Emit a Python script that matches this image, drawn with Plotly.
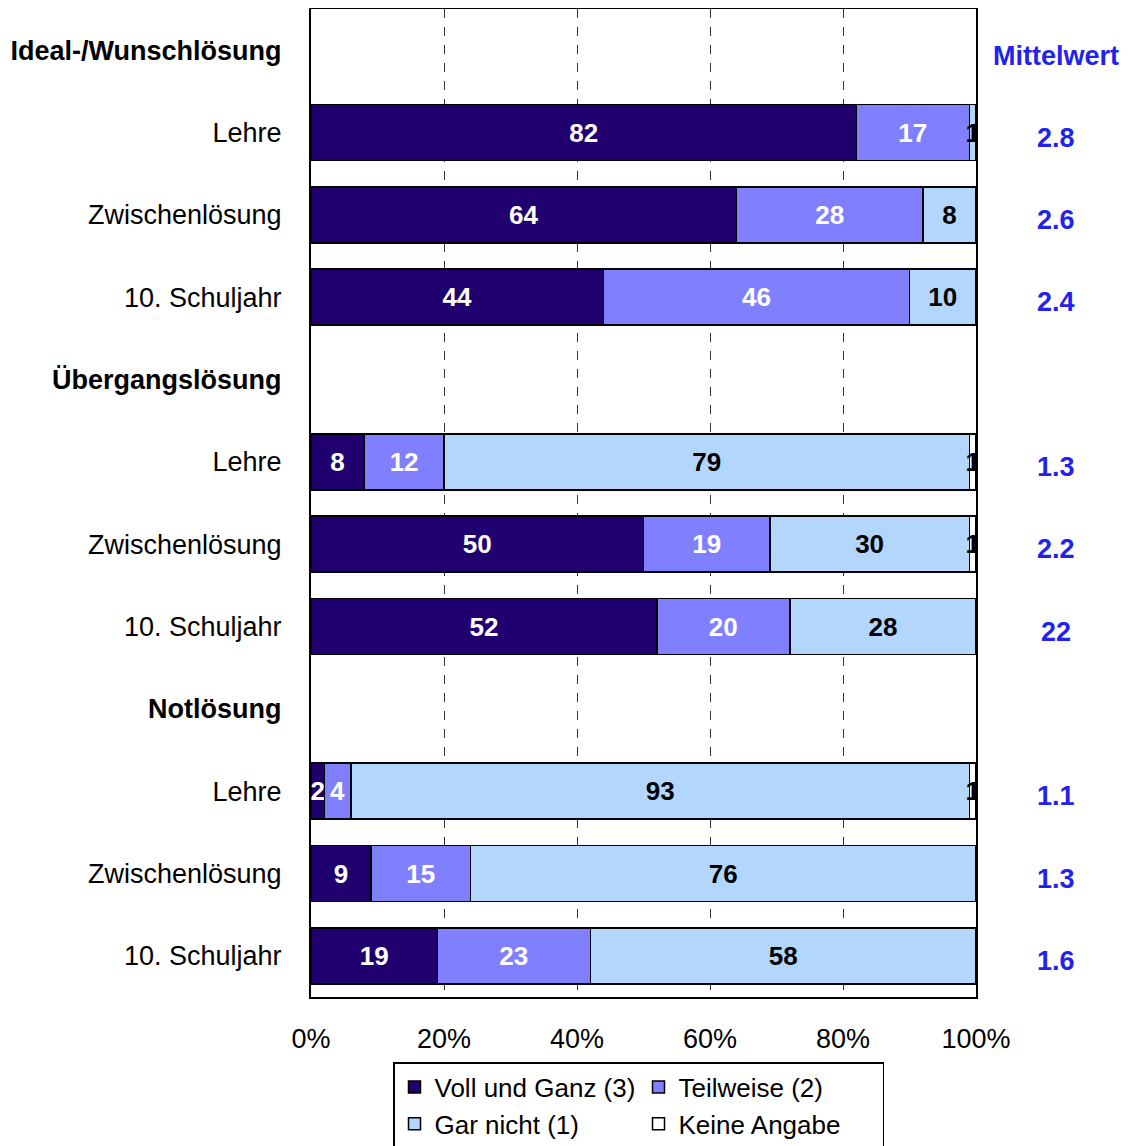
import plotly.graph_objects as go

rows = ["<b>Ideal-/Wunschlösung</b>", "Lehre", "Zwischenlösung", "10. Schuljahr",
        "<b>Übergangslösung</b>", "Lehre", "Zwischenlösung", "10. Schuljahr",
        "<b>Notlösung</b>", "Lehre", "Zwischenlösung", "10. Schuljahr"]
voll = [None, 82, 64, 44, None, 8, 50, 52, None, 2, 9, 19]
teil = [None, 17, 28, 46, None, 12, 19, 20, None, 4, 15, 23]
gar = [None, 1, 8, 10, None, 79, 30, 28, None, 93, 76, 58]
keine = [None, 0, 0, 0, None, 1, 1, 0, None, 1, 0, 0]
mittelwert = ["", "2.8", "2.6", "2.4", "", "1.3", "2.2", "22", "", "1.1", "1.3", "1.6"]

series = [
    ("Voll und Ganz (3)", voll, "#1F006E", "white"),
    ("Teilweise (2)", teil, "#8080FF", "white"),
    ("Gar nicht (1)", gar, "#B3D6FF", "black"),
    ("Keine Angabe", keine, "#FFFFFF", "black"),
]

pos = list(range(len(rows)))
FONT = "Liberation Sans, Arial, sans-serif"
FS = 27

fig = go.Figure()
for name, vals, col, tcol in series:
    txt = ["" if (v is None or v == 0) else f"<b>{v}</b>" for v in vals]
    fig.add_trace(go.Bar(
        name=name, orientation="h", y=pos, x=vals, text=txt,
        textposition="inside", insidetextanchor="middle", textangle=0,
        constraintext="none", cliponaxis=True,
        textfont=dict(family=FONT, size=26, color=tcol),
        marker=dict(color=col, line=dict(color="black", width=1.5)),
        width=0.68, hoverinfo="skip",
    ))

# page body has an 8px margin: lay out in page coordinates minus 8
OFF = 8
W, H = 1131 - OFF, 1146 - OFF
L, T = 311 - OFF, 9 - OFF
R, B = W - (976 - OFF), H - (997 - OFF)
pw, ph = W - L - R, H - T - B

def px(xpage):
    return (xpage - OFF - L) / pw

def py(ypage):
    return 1 - (ypage - OFF - T) / ph

for p, m in zip(pos, mittelwert):
    if m:
        fig.add_annotation(x=px(1056), xref="paper", xanchor="center",
                           y=p, yref="y", yshift=-5,
                           text=f"<b>{m}</b>", showarrow=False,
                           font=dict(family=FONT, size=FS, color="#2222EE"))
fig.add_annotation(x=px(1056), xref="paper", xanchor="center",
                   y=0, yref="y", yshift=-6,
                   text="<b>Mittelwert</b>", showarrow=False,
                   font=dict(family=FONT, size=FS, color="#2222EE"))

# outer frame line on the right
fig.add_shape(type="line", xref="paper", yref="paper",
              x0=px(1124), x1=px(1124), y0=py(1146), y1=py(8),
              line=dict(color="black", width=2), layer="above")

fig.update_layout(
    width=W, height=H, barmode="stack",
    margin=dict(l=L, r=R, t=T, b=B, autoexpand=False),
    paper_bgcolor="white", plot_bgcolor="white",
    font=dict(family=FONT, size=FS, color="black"),
    showlegend=True,
    legend=dict(orientation="h", x=px(393), xanchor="left",
                y=py(1062), yanchor="top",
                bordercolor="black", borderwidth=1.5, bgcolor="white",
                font=dict(family=FONT, size=26, color="black"),
                entrywidth=199, entrywidthmode="pixels",
                traceorder="normal", itemclick=False),
    xaxis=dict(range=[0, 100], tickvals=[0, 20, 40, 60, 80, 100],
               ticktext=["0%", "20%", "40%", "60%", "80%", "100%"],
               showgrid=True, gridcolor="#333333", griddash="dash", gridwidth=1,
               showline=True, linecolor="black", linewidth=2, mirror=True,
               ticks="", ticklabelstandoff=17, zeroline=False, fixedrange=True),
    yaxis=dict(range=[11.5, -0.5], tickvals=pos, ticktext=rows,
               showgrid=False, showline=True, linecolor="black", linewidth=2,
               mirror=True, ticks="", ticklabelstandoff=22, zeroline=False,
               fixedrange=True),
)

fig.write_html("out.html",
               post_script="document.documentElement.style.overflow='hidden';"
                           "document.body.style.overflow='hidden';")
